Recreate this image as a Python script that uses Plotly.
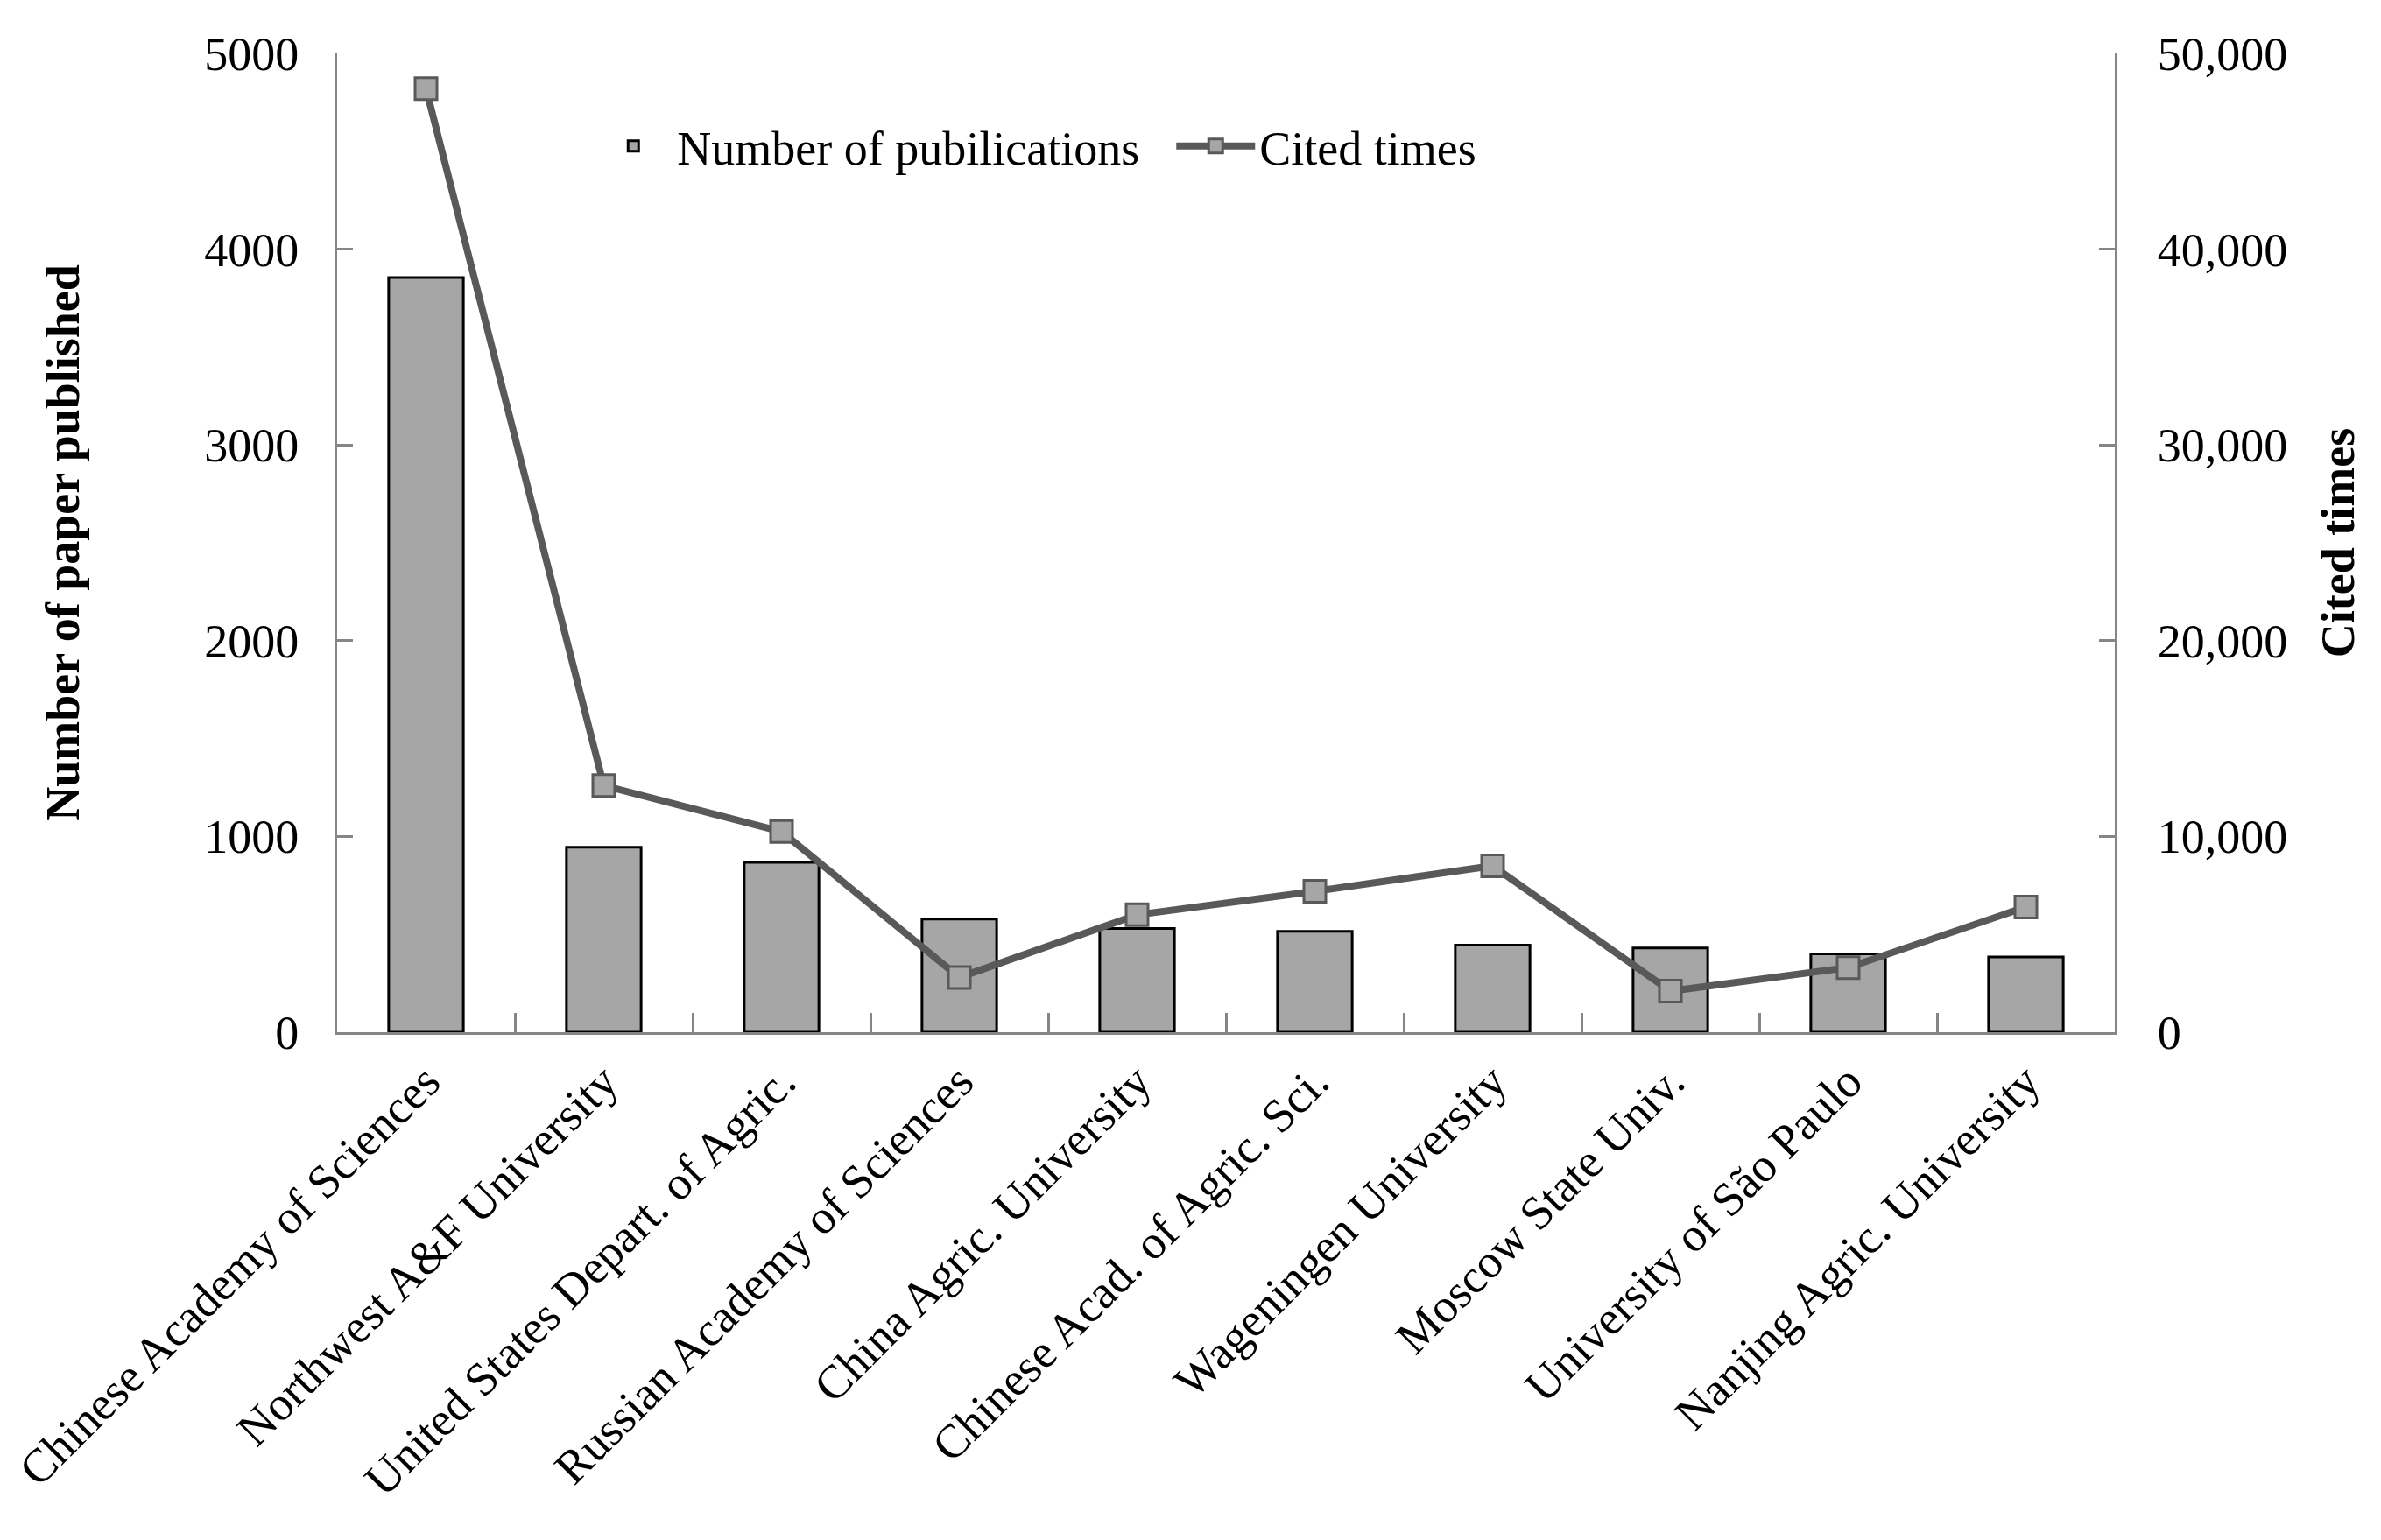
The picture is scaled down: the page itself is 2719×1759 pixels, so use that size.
import plotly.graph_objects as go

institutions = [
    "Chinese Academy of Sciences",
    "Northwest A&F University",
    "United States Depart. of Agric.",
    "Russian Academy of Sciences",
    "China Agric. University",
    "Chinese Acad. of Agric. Sci.",
    "Wageningen University",
    "Moscow State Univ.",
    "University of São Paulo",
    "Nanjing Agric. University",
]
publications = [3855, 945, 868, 578, 530, 515, 445, 430, 400, 385]
cited_times = [48200, 12600, 10250, 2800, 6000, 7200, 8500, 2100, 3300, 6400]

FONT = "Liberation Serif"
AXIS_GRAY = "#868686"

fig = go.Figure()
fig.add_trace(go.Bar(
    x=institutions, y=publications, name="Number of pubilications",
    marker=dict(color="#A6A6A6", line=dict(color="black", width=3)),
    yaxis="y",
))
fig.add_trace(go.Scatter(
    x=institutions, y=cited_times, name="Cited times", mode="lines+markers",
    line=dict(color="#595959", width=8),
    marker=dict(symbol="square", size=25, color="#A6A6A6",
                line=dict(color="#595959", width=3)),
    yaxis="y2",
))

fig.update_layout(
    width=2719, height=1759,
    paper_bgcolor="white", plot_bgcolor="white",
    margin=dict(l=377, r=312, t=53, b=588),
    font=dict(family=FONT, size=54, color="black"),
    bargap=0.58,
    showlegend=True,
    legend=dict(orientation="h", x=0.142, y=0.905, xanchor="left", yanchor="middle",
                font=dict(family=FONT, size=54), bgcolor="rgba(0,0,0,0)",
                itemwidth=90, entrywidth=560, tracegroupgap=0),
    xaxis=dict(
        type="category", range=[-0.5, 9.5], tickangle=-45, tickson="boundaries",
        ticks="inside", ticklen=22, tickwidth=3, tickcolor=AXIS_GRAY,
        showline=True, linecolor=AXIS_GRAY, linewidth=3, automargin=False,
        showgrid=False, tickfont=dict(family=FONT, size=54),
    ),
    yaxis=dict(
        range=[0, 5000], dtick=1000, tickformat="d", automargin=False,
        ticks="inside", ticklen=18, tickwidth=3, tickcolor=AXIS_GRAY,
        showline=True, linecolor=AXIS_GRAY, linewidth=3, showgrid=False,
        zeroline=False, ticklabelstandoff=30,
        title=dict(text="<b>Number of paper published</b>", standoff=126,
                   font=dict(family=FONT, size=54)),
    ),
    yaxis2=dict(
        range=[0, 50000], dtick=10000, tickformat=",", automargin=False,
        overlaying="y", side="right",
        ticks="inside", ticklen=18, tickwidth=3, tickcolor=AXIS_GRAY,
        showline=True, linecolor=AXIS_GRAY, linewidth=3, showgrid=False,
        zeroline=False, ticklabelstandoff=35,
        title=dict(text="<b>Cited times</b>", standoff=39,
                   font=dict(family=FONT, size=54)),
    ),
)

fig.write_html("out.html")
